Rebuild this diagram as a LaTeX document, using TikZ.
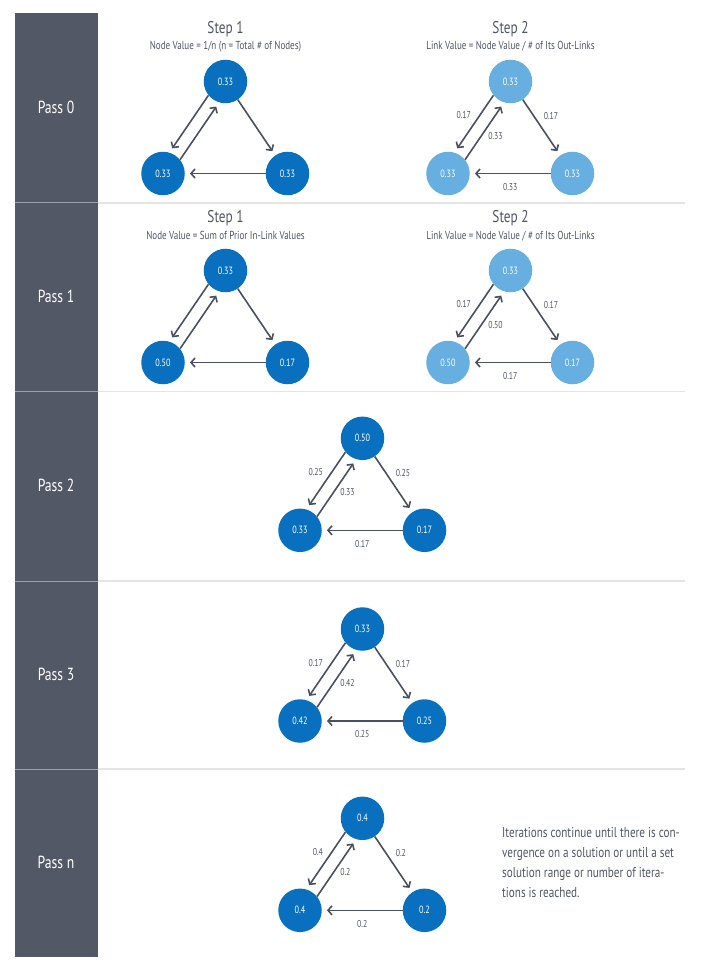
\documentclass[tikz,border=0pt]{standalone}
\usepackage{fontspec}
\setmainfont{PT Sans}[FakeStretch=0.78]
\usetikzlibrary{arrows.meta}
\definecolor{pc}{HTML}{535867}
\definecolor{db}{HTML}{0870BF}
\definecolor{lb}{HTML}{66AFE0}
\definecolor{ar}{HTML}{4B505E}
\definecolor{tx}{HTML}{505562}
\definecolor{sep}{HTML}{E4E4E4}
\definecolor{sepd}{HTML}{9DA1AA}

\begin{document}
\begin{tikzpicture}[x=1pt, y=-1pt,
    vert/.style={circle, fill=#1, minimum size=43.5pt, inner sep=0pt, text=white, font=\fontsize{10.5}{12}\selectfont},
    link/.style={draw=ar, line width=1.6pt, -{Straight Barb[length=4pt, width=9pt]}, shorten >=5pt},
    linklbl/.style={text=tx, inner sep=1pt, font=\fontsize{10}{12}\selectfont},
    passlbl/.style={anchor=base, text=white, font=\fontsize{17.5}{20}\selectfont},
    steptitle/.style={anchor=base, text=tx, font=\fontsize{17}{19}\selectfont},
    stepsub/.style={anchor=base, text=tx, font=\fontsize{11.6}{13}\selectfont}]

    \useasboundingbox (0,0) rectangle (716,965);

    % Side bar
    \fill[pc] (15,13) rectangle (97.5,957);

    % Separators between passes
    \foreach \y in {203,391.7,581,769} {
            \draw[sep, line width=1.2pt] (97.5,\y) -- (685,\y);
            \draw[sepd, line width=1pt] (15,\y) -- (97.5,\y);
        }

    % Pass labels
    \foreach \n/\y in {0/113.3,1/302.2,2/491.1,3/680,n/868.9} {
            \node[passlbl] (pass\n) at (56,\y) {Pass \n};
        }

    % Step titles
    \node[steptitle] (p0s1) at (225.5,33.3) {Step 1};
    \node[stepsub] (p0s1 sub) at (225.5,50) {Node Value = 1/n (n = Total \# of Nodes)};
    \node[steptitle] (p0s2) at (510.5,33.3) {Step 2};
    \node[stepsub] (p0s2 sub) at (510.5,50) {Link Value = Node Value / \# of Its Out-Links};
    \node[steptitle] (p1s1) at (225.5,222.6) {Step 1};
    \node[stepsub] (p1s1 sub) at (225.5,239.3) {Node Value = Sum of Prior In-Link Values};
    \node[steptitle] (p1s2) at (510.5,222.6) {Step 2};
    \node[stepsub] (p1s2 sub) at (510.5,239.3) {Link Value = Node Value / \# of Its Out-Links};

    % Graphs: top node, left node, right node and their links
    \foreach \id/\x/\y/\col/\vt/\vl/\vr/\la/\lb/\lc/\ld in {
            a/225.5/81.5/db/0.33/0.33/0.33/{}/{}/{}/{},
            b/510.5/81.5/lb/0.33/0.33/0.33/0.17/0.33/0.17/0.33,
            c/225.5/270.5/db/0.33/0.50/0.17/{}/{}/{}/{},
            d/510.5/270.5/lb/0.33/0.50/0.17/0.17/0.50/0.17/0.17,
            e/362.5/438.3/db/0.50/0.33/0.17/0.25/0.33/0.25/0.17,
            f/362.5/629/db/0.33/0.42/0.25/0.17/0.42/0.17/0.25,
            g/362.5/818.3/db/0.4/0.4/0.2/0.4/0.2/0.2/0.2} {
            \node[vert=\col] (\id-t) at (\x,\y) {\vt};
            \node[vert=\col] (\id-l) at ([shift={(-62.5,92)}]\id-t) {\vl};
            \node[vert=\col] (\id-r) at ([shift={(62,92)}]\id-t) {\vr};
            \draw[link] (\id-t.219) -- (\id-l.73) node[linklbl, pos=0.35, left=7pt] {\la};
            \draw[link] (\id-l.39) -- (\id-t.253) node[linklbl, pos=0.42, right=5pt] {\lb};
            \draw[link] (\id-t.304) -- (\id-r.124) node[linklbl, pos=0.3, right=8pt] {\lc};
            \draw[link] (\id-r) -- (\id-l) node[linklbl, midway, below=8pt] {\ld};
        }

    % Note on convergence
    \node[anchor=north west, align=left, inner sep=0pt, text=tx, font=\fontsize{14.3}{20}\selectfont] (note) at (502,827)
    {Iterations continue until there is con-\\vergence on a solution or until a set\\solution range or number of itera-\\tions is reached.};
\end{tikzpicture}
\end{document}
